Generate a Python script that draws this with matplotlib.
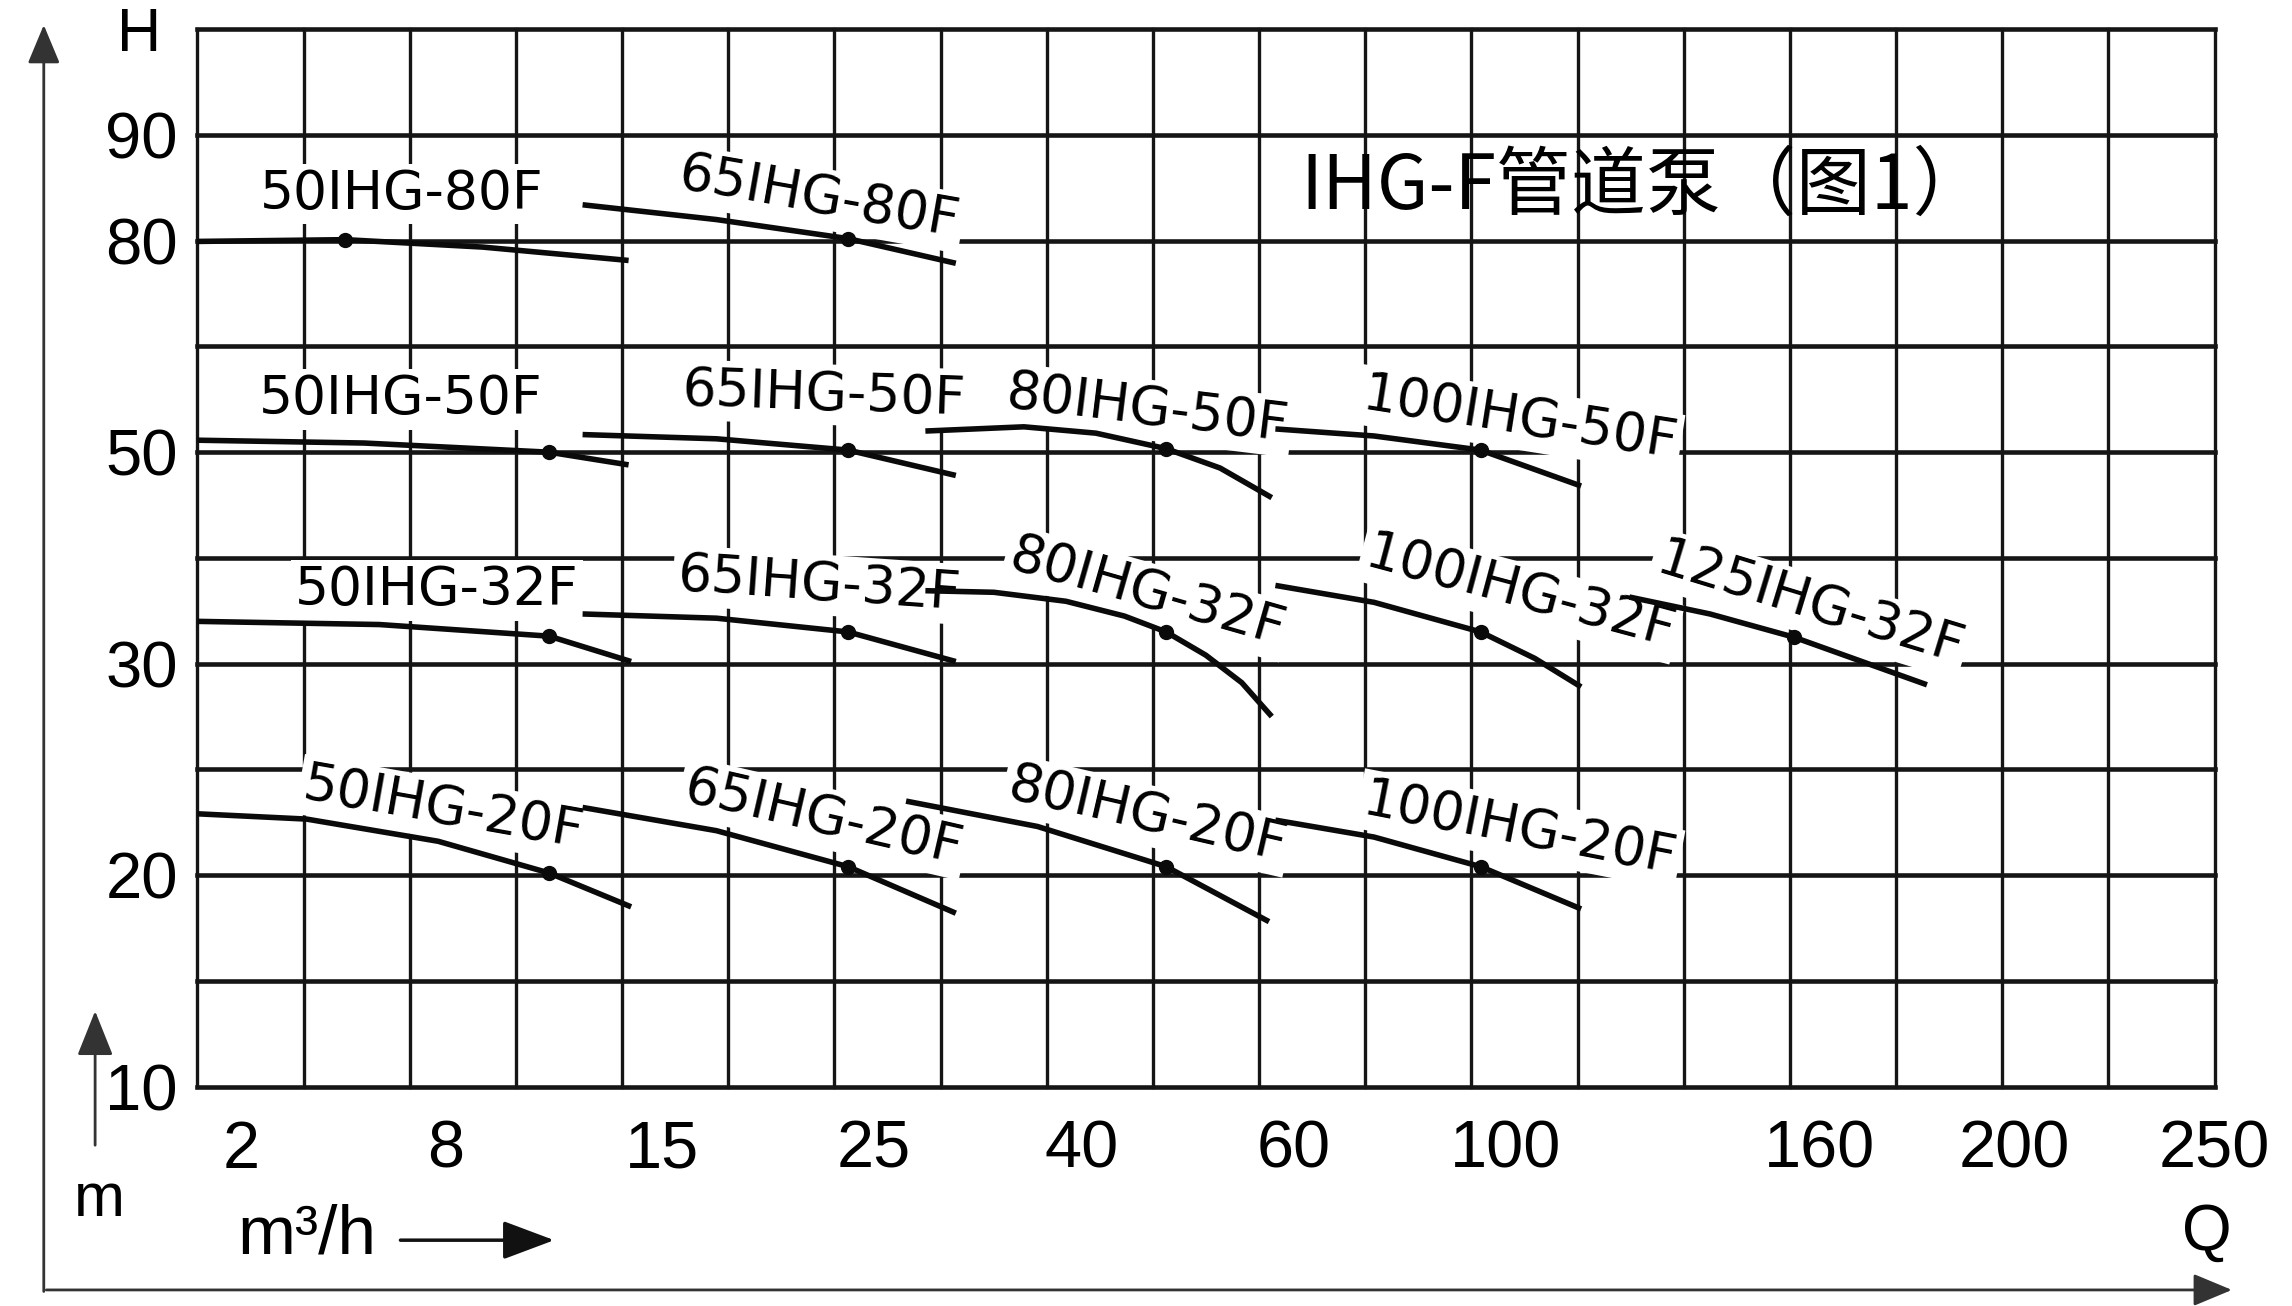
import numpy as np
import matplotlib
matplotlib.use("Agg")
import matplotlib.pyplot as plt

plt.rcParams['font.family'] = ['Liberation Sans', 'DejaVu Sans']

# axis ticks: Q (m3/h) and H (m), and the grid column / row each sits on
q_ticks = [2, 8, 15, 25, 40, 60, 100, 160, 200, 250]
q_cols = [0.41, 2.34, 4.38, 6.37, 8.33, 10.33, 12.32, 15.28, 17.11, 19.0]
h_ticks = [10, 20, 30, 50, 80, 90]
h_rows = [0, 2, 4, 6, 8, 9]

names = ["50IHG-80F", "65IHG-80F",
         "50IHG-50F", "65IHG-50F", "80IHG-50F", "100IHG-50F",
         "50IHG-32F", "65IHG-32F", "80IHG-32F", "100IHG-32F", "125IHG-32F",
         "50IHG-20F", "65IHG-20F", "80IHG-20F", "100IHG-20F"]

curve_q = [
    [1.49, 4.05, 8.9, 13.6],
    [11.9, 17.1, 23.5, 30.1],
    [1.49, 4.6, 10.8, 13.6],
    [11.9, 17.1, 23.5, 30.1],
    [28.1, 35.1, 41.1, 47.0, 52.1, 57.5],
    [57.9, 72.8, 94.2, 112],
    [1.49, 5.1, 10.8, 13.7],
    [11.9, 17.1, 23.5, 30.1],
    [28.1, 32.8, 38.6, 43.4, 47.0, 50.7, 54.3, 57.5],
    [57.9, 72.8, 94.2, 104.5, 112],
    [120.4, 135.8, 154, 181],
    [1.49, 3.12, 7.6, 10.8, 13.7],
    [11.9, 17.1, 23.5, 30.1],
    [26.9, 36.2, 47.0, 57.2],
    [57.9, 72.8, 94.2, 112],
]
curve_h = [
    [79.9, 80.1, 79.1, 77.2],
    [83.4, 82.0, 80.2, 76.8],
    [51.7, 51.3, 50.0, 48.8],
    [52.5, 51.9, 50.3, 47.8],
    [53.0, 53.6, 52.7, 50.5, 48.5, 45.7],
    [53.3, 52.3, 50.3, 46.8],
    [34.0, 33.7, 32.6, 30.2],
    [34.7, 34.3, 33.0, 30.2],
    [36.9, 36.75, 35.9, 34.5, 33.0, 30.8, 29.1, 27.5],
    [37.4, 35.8, 33.0, 30.5, 28.9],
    [36.3, 34.7, 32.5, 29.0],
    [22.9, 22.65, 21.6, 20.1, 18.5],
    [23.2, 22.1, 20.4, 18.2],
    [23.5, 22.3, 20.4, 17.8],
    [22.6, 21.8, 20.4, 18.4],
]
rated_q = [4.05, 23.5, 10.8, 23.5, 47.0, 94.2, 10.8, 23.5, 47.0, 94.2, 154,
           10.8, 23.5, 47.0, 94.2]
rated_h = [80.1, 80.2, 50.0, 50.3, 50.5, 50.3, 32.6, 33.0, 33.0, 33.0, 32.5,
           20.1, 20.4, 20.4, 20.4]

# label placement (offset from rated point, in points) and tilt
label_dx = [41, -21, -107, -18, -14, 28, -81, -21, -14, 28, 11, -76, -18, -14, 28]
label_dy = [33, 29, 38, 40, 28, 22, 33, 34, 28, 28, 24, 46, 35, 37, 27]
label_rot = [0, -10, 0, -2, -7, -9, 0, -4, -16, -15, -17, -10, -13, -13, -11]


def extrap(x, xp, fp):
    x = np.asarray(x, dtype=float)
    xp = np.asarray(xp, dtype=float)
    fp = np.asarray(fp, dtype=float)
    y = np.interp(x, xp, fp)
    lo = (fp[1] - fp[0]) / (xp[1] - xp[0])
    hi = (fp[-1] - fp[-2]) / (xp[-1] - xp[-2])
    y = np.where(x < xp[0], fp[0] + (x - xp[0]) * lo, y)
    y = np.where(x > xp[-1], fp[-1] + (x - xp[-1]) * hi, y)
    return y


def q_fwd(q):
    return extrap(np.log10(np.clip(q, 1e-6, None)), np.log10(q_ticks), q_cols)


def q_inv(c):
    return 10 ** extrap(c, q_cols, np.log10(q_ticks))


def h_fwd(h):
    return extrap(h, h_ticks, h_rows)


def h_inv(r):
    return extrap(r, h_rows, h_ticks)


fig = plt.figure(figsize=(22.92, 13.06), dpi=100)
rect = [0.0861, 0.168, 0.8801, 0.8096]

# drawing grid
gax = fig.add_axes(rect)
gax.set_xlim(0, 19)
gax.set_ylim(0, 10)
gax.set_axis_off()
for c in range(20):
    gax.axvline(c, color='#151515', lw=2.4, clip_on=False)
for r in range(11):
    gax.axhline(r, color='#151515', lw=3.3, clip_on=False)

# data axes
ax = fig.add_axes(rect)
ax.patch.set_visible(False)
ax.set_xscale('function', functions=(q_fwd, q_inv))
ax.set_yscale('function', functions=(h_fwd, h_inv))
ax.set_xlim(float(q_inv(0)), float(q_inv(19)))
ax.set_ylim(float(h_inv(0)), float(h_inv(10)))
for s in ax.spines.values():
    s.set_visible(False)
ax.set_xticks(q_ticks, labels=[str(t) for t in q_ticks])
ax.set_yticks(h_ticks, labels=[str(t) for t in h_ticks])
ax.minorticks_off()
ax.tick_params(axis='x', length=0, labelsize=48, pad=24)
ax.tick_params(axis='y', length=0, labelsize=47, pad=14)

for i, name in enumerate(names):
    ax.plot(curve_q[i], curve_h[i], color='#0a0a0a', lw=4, zorder=4,
            solid_capstyle='butt', solid_joinstyle='round')
    ax.plot(rated_q[i], rated_h[i], 'o', color='#0a0a0a', ms=10, zorder=5)
    ax.annotate(name, (rated_q[i], rated_h[i]),
                xytext=(label_dx[i], label_dy[i]), textcoords='offset points',
                ha='center', va='center', rotation=label_rot[i],
                rotation_mode='anchor', fontsize=38.5, family='DejaVu Sans',
                bbox=dict(boxstyle='square,pad=0.08', fc='white', ec='none'),
                zorder=3)

ax.text(0.717, 0.851, "IHG-F管道泵（图1）", transform=ax.transAxes,
        ha='center', va='center', fontsize=54, fontweight='medium',
        family=['Noto Sans CJK SC', 'DejaVu Sans'])

# axis arrows and units
arrow_kw = dict(arrowstyle='-|>,head_length=0.6,head_width=0.25',
                color='#333333', lw=2, mutation_scale=40)
ax.annotate('', xy=(0.0191, 0.983), xytext=(0.0191, 0.009),
            xycoords='figure fraction', textcoords='figure fraction',
            arrowprops=arrow_kw, annotation_clip=False)
ax.annotate('', xy=(0.975, 0.0123), xytext=(0.019, 0.0123),
            xycoords='figure fraction', textcoords='figure fraction',
            arrowprops=arrow_kw, annotation_clip=False)
ax.annotate('', xy=(0.0415, 0.228), xytext=(0.0415, 0.121),
            xycoords='figure fraction', textcoords='figure fraction',
            arrowprops=dict(arrowstyle='-|>,head_length=0.7,head_width=0.28',
                            color='#333333', lw=2, mutation_scale=40),
            annotation_clip=False)
ax.annotate('', xy=(0.243, 0.0504), xytext=(0.1735, 0.0504),
            xycoords='figure fraction', textcoords='figure fraction',
            arrowprops=dict(arrowstyle='-|>,head_length=0.8,head_width=0.3',
                            color='#111111', lw=2.5, mutation_scale=40),
            annotation_clip=False)

fig.text(0.0606, 0.973, "H", ha='center', va='center', fontsize=44)
fig.text(0.0434, 0.081, "m", ha='center', va='center', fontsize=44)
fig.text(0.134, 0.054, "m³/h", ha='center', va='center', fontsize=50)
fig.text(0.963, 0.056, "Q", ha='center', va='center', fontsize=46)

fig.savefig("out.png", dpi=100)
